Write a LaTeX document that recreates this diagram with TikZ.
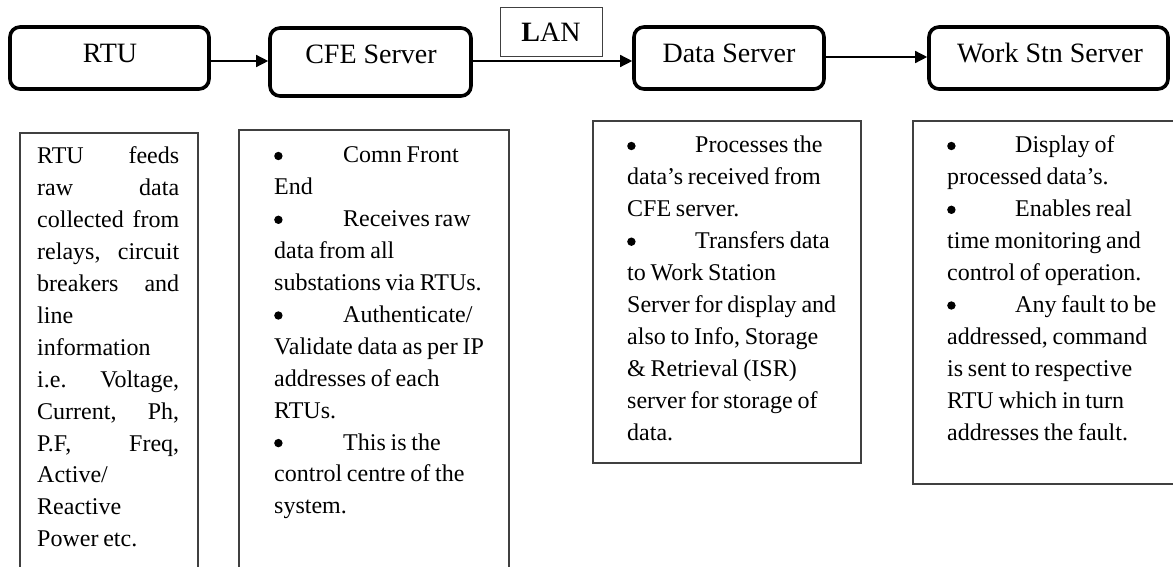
\documentclass[tikz,border=0pt]{standalone}
\usepackage{fontspec}
\setmainfont{Liberation Serif}
\usetikzlibrary{arrows.meta}
\newcommand\descfont{\fontsize{24}{31.9}\selectfont\spaceskip=0.2em plus 0.05em minus 0.05em\relax}
\newcommand\bul[1]{\makebox[#1][l]{\tikz[baseline=0pt]\fill (4.5pt,7pt) circle (4.2pt);}}
\tikzset{
  topbox/.style={draw=black, line width=3.6pt, rounded corners=10pt, inner sep=0pt},
  toptext/.style={anchor=base, inner sep=0pt, font=\fontsize{28}{32}\selectfont},
  lanbox/.style={draw=black!75, line width=1.3pt, inner sep=0pt, minimum width=102pt, minimum height=49pt},
  descbox/.style={draw=black!75, line width=1.8pt, inner sep=0pt, anchor=north west},
  desctext/.style={anchor=base west, inner sep=0pt, font=\descfont},
  arr/.style={line width=1.4pt, -{Triangle[length=12pt,width=12pt]}},
}
\begin{document}
\begin{tikzpicture}[x=1pt,y=-1pt]
\useasboundingbox (0,0) rectangle (1173,567);
% top boxes
\node[topbox, minimum width=199pt, minimum height=62pt] (rtu) at (109.5,58) {};
\node[topbox, minimum width=201pt, minimum height=68pt] (cfe) at (370.5,62) {};
\node[topbox, minimum width=190pt, minimum height=62pt] (data) at (729,58) {};
\node[topbox, minimum width=239pt, minimum height=62pt] (ws) at (1048.5,58) {};
\node[toptext] (rtut) at (110,63) {RTU};
\node[toptext] (cfet) at (371,64) {CFE Server};
\node[toptext] (datat) at (729,63) {Data Server};
\node[toptext] (wst) at (1050,63) {Work Stn Server};
% LAN
\node[lanbox] (lan) at (551.5,32) {};
\node[toptext] (lant) at (551,42) {\textbf{L}AN};
% connectors
\draw[arr] (rtu.east |- 0,61) -- (cfe.west |- 0,61);
\draw[arr] (cfe.east |- 0,61) -- (data.west |- 0,61);
\draw[arr] (data.east |- 0,57) -- (ws.west |- 0,57);
% description boxes
\node[descbox, minimum width=178pt, minimum height=445pt] (d1) at (19,132) {};
\node[descbox, minimum width=270pt, minimum height=448pt] (d2) at (238,129) {};
\node[descbox, minimum width=268pt, minimum height=342pt] (d3) at (592,120) {};
\node[descbox, minimum width=275pt, minimum height=363pt] (d4) at (912,120) {};
\node[desctext] (t1) at (37,164) {\begin{tabular}[t]{@{}l@{}}
\hbox to 142pt{RTU\hfill feeds}\\
\hbox to 142pt{raw\hfill data}\\
\hbox to 142pt{collected\hfill from}\\
\hbox to 142pt{relays,\hfill circuit}\\
\hbox to 142pt{breakers\hfill and}\\
line\\
information\\
\hbox to 142pt{i.e.\hfill Voltage,}\\
\hbox to 142pt{Current,\hfill Ph,}\\
\hbox to 142pt{P.F,\hfill Freq,}\\
Active/\\
Reactive\\
Power etc.
\end{tabular}};
\node[desctext] (t2) at (274,163) {\begin{tabular}[t]{@{}l@{}}
\bul{69pt}Comn Front\\
End\\
\bul{69pt}Receives raw\\
data from all\\
substations via RTUs.\\
\bul{69pt}Authenticate/\\
Validate data as per IP\\
addresses of each\\
RTUs.\\
\bul{69pt}This is the\\
control centre of the\\
system.
\end{tabular}};
\node[desctext] (t3) at (627,153) {\begin{tabular}[t]{@{}l@{}}
\bul{68pt}Processes the\\
data’s received from\\
CFE server.\\
\bul{68pt}Transfers data\\
to Work Station\\
Server for display and\\
also to Info, Storage\\
\& Retrieval (ISR)\\
server for storage of\\
data.
\end{tabular}};
\node[desctext] (t4) at (947,153) {\begin{tabular}[t]{@{}l@{}}
\bul{68pt}Display of\\
processed data’s.\\
\bul{68pt}Enables real\\
time monitoring and\\
control of operation.\\
\bul{68pt}Any fault to be\\
addressed, command\\
is sent to respective\\
RTU which in turn\\
addresses the fault.
\end{tabular}};
\end{tikzpicture}
\end{document}
